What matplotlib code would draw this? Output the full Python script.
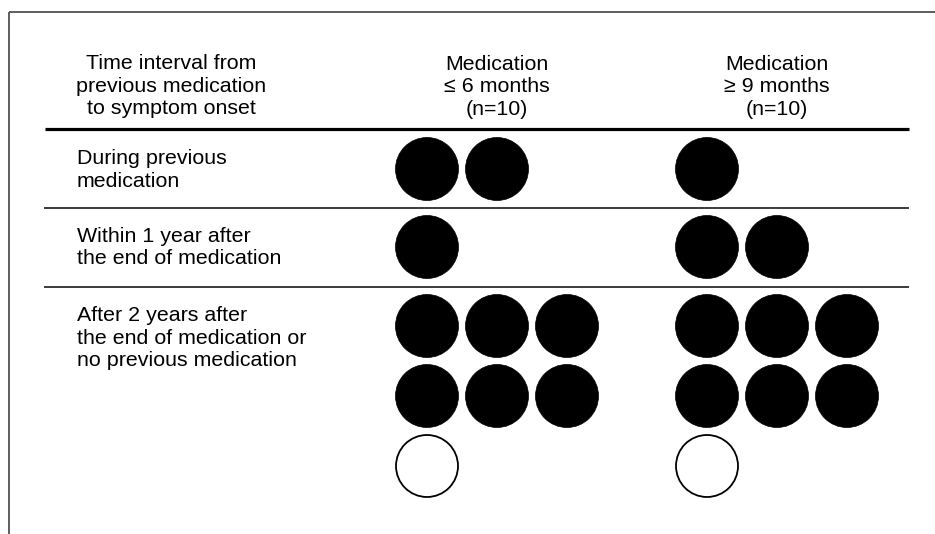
import matplotlib
matplotlib.use("Agg")
import matplotlib.pyplot as plt
from matplotlib.patches import Circle

plt.rcParams['font.family'] = ['Liberation Sans', 'DejaVu Sans']

# ---- data ----
header_left = "Time interval from\nprevious medication\nto symptom onset"
groups = ["Medication\n\u2264 6 months\n(n=10)", "Medication\n\u2265 9 months\n(n=10)"]
categories = ["During previous\nmedication",
              "Within 1 year after\nthe end of medication",
              "After 2 years after\nthe end of medication or\nno previous medication"]
filled_counts = [[2, 1, 6],   # group 1 per category
                 [1, 2, 6]]   # group 2 per category
open_counts = [[0, 0, 1],
               [0, 0, 1]]

# ---- layout (pixel coordinates) ----
W, H = 935, 534
fig = plt.figure(figsize=(W / 100, H / 100), dpi=100)
ax = fig.add_axes([0, 0, 1, 1])
ax.set_xlim(0, W)
ax.set_ylim(H, 0)
ax.axis('off')

fs = 15.4
ls = 1.22

# frame (top and left border)
ax.plot([9, W], [11.5, 11.5], color='#505050', lw=1.3, solid_capstyle='butt')
ax.plot([9, 9], [11.5, H], color='#505050', lw=1.3, solid_capstyle='butt')

# header
ax.text(171, 86, header_left, ha='center', va='center', fontsize=fs, linespacing=ls)
group_cx = [497, 777]
for g, label in enumerate(groups):
    ax.text(group_cx[g], 87, label, ha='center', va='center', fontsize=fs, linespacing=ls)

# rules
ax.plot([45, 909], [129, 129], color='black', lw=2.3, solid_capstyle='butt')
for y in [208, 287]:
    ax.plot([44, 909], [y, y], color='#1a1a1a', lw=1.2, solid_capstyle='butt')

# row labels
label_cy = [170, 247.5, 338]
for c, lab in enumerate(categories):
    ax.text(77, label_cy[c], lab, ha='left', va='center', fontsize=fs, linespacing=ls)

# circles
row_y0 = [169, 247, 326]
dx = dy = 70
r = 31.5
per_row = 3
for g in range(len(groups)):
    x0 = group_cx[g] - dx
    for c in range(len(categories)):
        nf = filled_counts[g][c]
        no = open_counts[g][c]
        for k in range(nf + no):
            cx = x0 + (k % per_row) * dx
            cy = row_y0[c] + (k // per_row) * dy
            if k < nf:
                ax.add_patch(Circle((cx, cy), r, facecolor='black', edgecolor='black', lw=0.5))
            else:
                ax.add_patch(Circle((cx, cy), r - 0.5, facecolor='white', edgecolor='black', lw=1.3))

fig.savefig('out.png', dpi=100, facecolor='white')
